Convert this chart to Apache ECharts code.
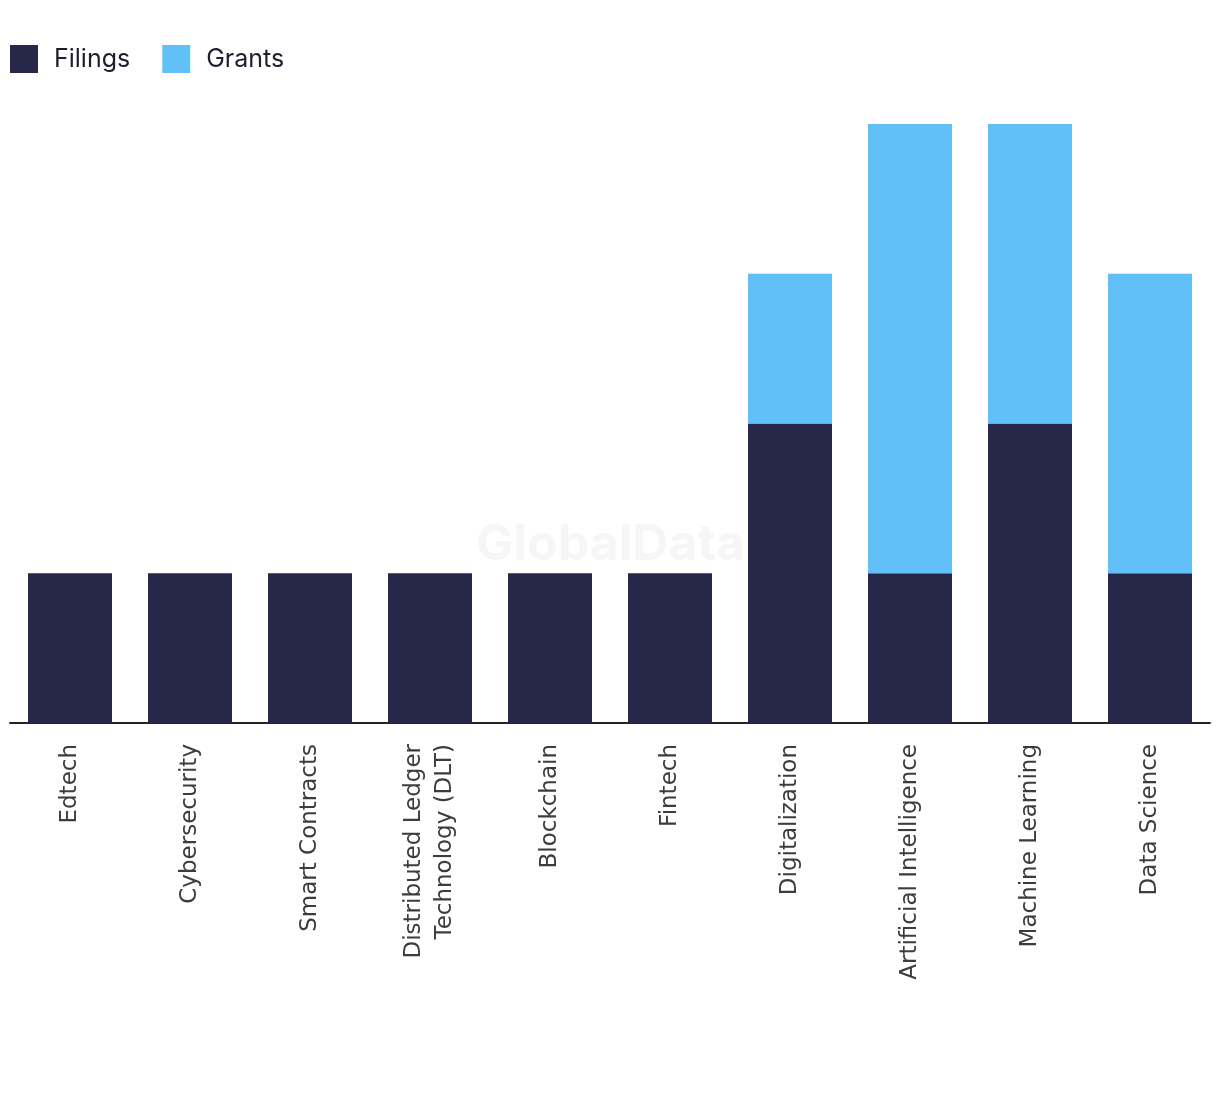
<!DOCTYPE html>
<html><head><meta charset="utf-8">
<script src="https://cdn.jsdelivr.net/npm/echarts@6/dist/echarts.min.js"></script>
<style>html,body{margin:0;padding:0;background:#fff}#c{width:1220px;height:1094px}</style>
</head><body><div id="c"></div>
<script>
const categories = ["Edtech","Cybersecurity","Smart Contracts","Distributed Ledger\nTechnology (DLT)","Blockchain","Fintech","Digitalization","Artificial Intelligence","Machine Learning","Data Science"];
const filings = [1,1,1,1,1,1,2,1,2,1];
const grants = [0,0,0,0,0,0,1,3,2,2];
const chart = echarts.init(document.getElementById('c'));
chart.setOption({
  animation:false,
  graphic:[{type:'text',left:476,top:520,z:0,style:{text:'GlobalData',fontFamily:'Inter, Roboto, sans-serif',fontWeight:'bold',fontSize:50,fill:'#f6f6f6'}}],
  legend:{left:10,top:45,padding:0,itemWidth:28,itemHeight:28,itemGap:32,icon:'rect',
    textStyle:{fontFamily:'Inter, Roboto, sans-serif',fontSize:25,color:'#1e1e30',padding:[0,0,0,11]},
    data:['Filings','Grants']},
  grid:{left:10,right:10,top:124,bottom:371,containLabel:false},
  xAxis:{type:'category',data:categories,
    axisLine:{lineStyle:{color:'#222',width:2}},axisTick:{show:false},
    axisLabel:{rotate:90,interval:0,margin:21,fontFamily:'DejaVu Sans, sans-serif',fontSize:23,color:'#3c3c3c',lineHeight:31}},
  yAxis:{type:'value',min:0,max:4,interval:1,show:false,splitLine:{show:false}},
  series:[
    {name:'Filings',type:'bar',stack:'a',data:filings,barWidth:'70%',itemStyle:{color:'#27274a'},z:2},
    {name:'Grants',type:'bar',stack:'a',data:grants,barWidth:'70%',itemStyle:{color:'#62c0f8'},z:2}
  ]
});
</script></body></html>
